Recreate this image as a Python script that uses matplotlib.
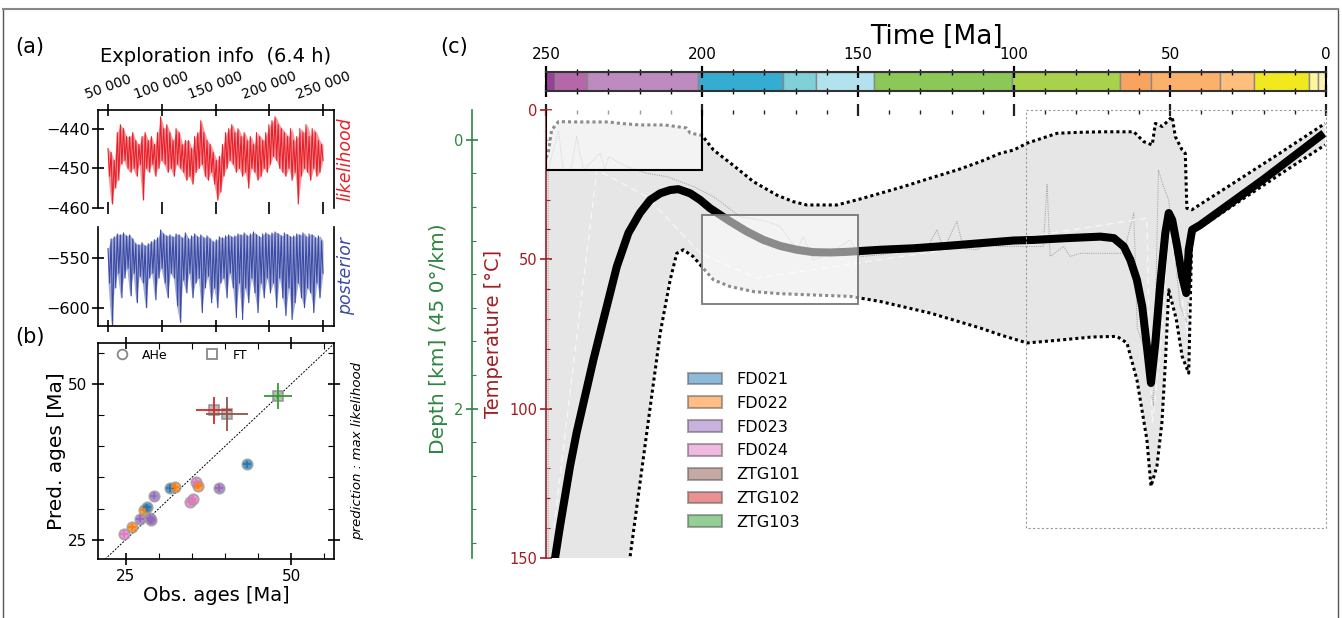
import numpy as np
import matplotlib
matplotlib.use('Agg')
import matplotlib.pyplot as plt
from matplotlib.patches import Rectangle, Patch
from matplotlib.lines import Line2D
from matplotlib.ticker import MultipleLocator, FixedLocator, FuncFormatter

# ---------------- DATA ----------------
# (a) MCMC traces (alternating upper / lower excursions)
iter_start, iter_end = 50000, 250000
lik_hi = [-445, -446, -448, -441, -439, -440, -442, -442, -441, -443, -444, -442, -441, -443, -442, -444,
          -441, -437, -440, -439, -441, -443, -440, -441, -444, -443, -443, -445, -442, -441, -438, -441,
          -443, -444, -446, -448, -447, -444, -441, -440, -439, -441, -440, -442, -441, -443, -442, -444,
          -441, -442, -443, -441, -439, -438, -437, -439, -440, -441, -442, -440, -443, -442, -440, -441,
          -439, -442, -440, -441, -443, -444]
lik_lo = [-452, -459, -455, -453, -449, -448, -450, -451, -450, -452, -449, -458, -450, -451, -449, -452,
          -450, -448, -449, -451, -450, -452, -449, -450, -451, -453, -452, -454, -451, -450, -449, -452,
          -453, -451, -454, -458, -456, -452, -450, -448, -449, -451, -450, -452, -451, -455, -450, -451,
          -453, -452, -450, -451, -449, -447, -448, -450, -451, -452, -450, -453, -451, -459, -452, -450,
          -451, -453, -450, -452, -451, -448]
post_hi = [-540, -530, -528, -525, -526, -524, -527, -526, -530, -535, -536, -534, -537, -535, -533, -531,
           -529, -521, -525, -527, -526, -528, -525, -526, -529, -524, -530, -527, -525, -528, -526, -529,
           -527, -530, -533, -531, -528, -529, -527, -526, -528, -527, -525, -526, -524, -527, -525, -523,
           -526, -528, -525, -524, -526, -524, -523, -525, -527, -524, -526, -528, -527, -525, -526, -524,
           -528, -525, -526, -529, -527, -532]
post_lo = [-575, -618, -580, -565, -590, -570, -560, -588, -565, -595, -568, -575, -600, -570, -565, -592,
           -570, -560, -575, -590, -565, -570, -598, -615, -572, -585, -565, -590, -575, -570, -605, -580,
           -568, -595, -580, -600, -575, -570, -590, -565, -580, -610, -575, -612, -580, -595, -570, -585,
           -605, -575, -590, -570, -585, -575, -600, -570, -590, -608, -580, -612, -595, -575, -590, -600,
           -580, -585, -605, -575, -590, -565]
iter_ticks = [50000, 100000, 150000, 200000, 250000]

# (b) observed vs predicted ages
ahe_obs = [24.7, 25.95, 27.1, 27.7, 28.2, 28.7, 28.8, 29.2, 31.7, 32.5, 34.7, 35.1, 35.6, 35.9, 39.1, 43.3]
ahe_pred = [25.9, 27.0, 28.4, 29.8, 30.2, 28.5, 28.2, 32.1, 33.3, 33.5, 31.0, 31.6, 34.3, 33.7, 33.3, 37.1]
ahe_sample = ['FD024', 'FD022', 'FD023', 'FD022', 'FD021', 'FD023', 'FD023', 'FD023', 'FD021', 'FD022',
              'FD024', 'FD024', 'FD024', 'FD022', 'FD023', 'FD021']
ahe_err = 0.6
ft_obs = [38.3, 40.3, 48.0]
ft_pred = [45.8, 45.2, 48.1]
ft_xerr = [2.75, 3.15, 2.15]
ft_yerr = [2.2, 2.8, 2.1]
ft_sample = ['ZTG102', 'ZTG101', 'ZTG103']

samples = ['FD021', 'FD022', 'FD023', 'FD024', 'ZTG101', 'ZTG102', 'ZTG103']
sample_colors = ['#1f77b4', '#ff7f0e', '#9467bd', '#e377c2', '#8c564b', '#d62728', '#2ca02c']

# (c) thermal history
env_hi_t = [250, 249.3, 248.2, 246, 240, 230, 226, 220, 212, 205, 203.8, 200, 196.3, 190, 183.5, 176, 170.7,
            166.4, 156.8, 150, 142.9, 135, 126.8, 118, 110.8, 104.4, 100.1, 95.8, 86.2, 80, 72, 66, 61.6,
            58.4, 55.7, 54.7, 52.5, 50.9, 49.3, 48.3, 46.1, 45.1, 44.6, 43.0, 30, 15, 0.3]
env_hi_T = [16, 14.5, 6.7, 3.9, 4, 4, 4.5, 5, 5, 6, 7.7, 8.5, 13.4, 18.5, 24, 28.5, 30.7,
            31.8, 31.8, 30, 27.9, 25.5, 22.8, 20, 17.3, 14.5, 13.4, 11.1, 7.8, 7.5, 7.3, 7.3, 7.3,
            10.6, 11.7, 4.5, 5.5, 3.9, 2.2, 8.9, 13.4, 14.5, 32.9, 33.4, 24.7, 14.6, 4.5]
env_lo_t = [250, 225, 223.1, 217.7, 213.4, 210.2, 208.1, 206, 202.8, 200.1, 196.3, 191, 183.5, 175, 165.3,
            152.5, 142.9, 126.8, 110.8, 104.4, 95.8, 85, 75, 67, 63.8, 60.6, 57.4, 56.1, 54.2, 52.6, 51.5,
            50.4, 48, 46.1, 44, 43, 30, 15, 0.3]
env_lo_T = [200, 165, 150, 108, 74.7, 56.9, 48, 46.8, 49.1, 52.4, 56.9, 59.1, 60.8, 61.5, 61.9,
            62.4, 64.1, 68, 73, 75.3, 78, 77, 76, 75.8, 78, 90.3, 110.4, 126, 119.3, 104.8, 85,
            60.2, 70, 82.5, 88.1, 41.2, 32.1, 21.7, 11.7]
best_t = [248, 247.1, 245.5, 243.9, 242.3, 240.2, 238.0, 234.8, 231.6, 227.3, 223.6, 219.9, 216.6, 213.4,
          210.2, 207.6, 203.8, 200.6, 197.4, 194.2, 191, 185.6, 180.3, 175, 169.6, 164.3, 158.9, 153.6,
          142.9, 132.2, 121.5, 110.8, 100.1, 93.7, 83, 72.3, 68, 64.8, 62.7, 60.6, 58.9, 57.4, 56.1, 54.7,
          53.1, 51.5, 50.4, 49.3, 47.7, 46.1, 44.8, 44, 42.9, 40.3, 20, 0.7]
best_T = [155, 150, 139.3, 129.3, 119.3, 108.1, 98.1, 83.6, 70.2, 52.4, 41.2, 34.5, 30.1, 27.9,
          26.8, 26.5, 27.9, 30.1, 32.9, 35.1, 37.3, 40.7, 43.5, 45.5, 46.8, 47.6, 47.7, 47.5,
          46.8, 46.3, 45.5, 44.6, 43.7, 43.5, 42.9, 42.4, 42.9, 45.7, 50.2, 56.9, 65.8, 79.2, 91.4, 78,
          58, 41.2, 34.5, 36.8, 45.7, 55.8, 61.3, 46.8, 40.1, 38.5, 23.2, 7.8]
mean_t = [247.5, 233.7, 217.7, 200.6, 182.4, 153.6, 121.5, 95.8, 57.4, 56.8, 55.7, 53, 50.4, 46.5, 44.5,
          43, 20, 0.7]
mean_T = [140, 20, 29, 47.9, 56.3, 51.8, 46.8, 42.5, 36.2, 70, 104.7, 80, 40, 60, 75, 42, 24, 9]
med_t = [249.3, 249.3, 246, 244.5, 242, 240.2, 238, 232.7, 231, 230, 224.1, 217.7, 211.3, 202.8, 196.3, 187.8,
         179.2, 175, 169.6, 167.5, 164.3, 159, 152.5, 149.3, 142.9, 134.3, 127.9, 124.7, 122.6, 118.3, 116.2,
         111.9, 107.1, 105.5, 90.6, 89.4, 88.4, 84.1, 82, 78.7, 72.3, 64.9, 61.6, 60.5, 57.4, 55.3, 53.7,
         52.1, 50.4, 46.7, 44.5, 43]
med_T = [150, 20, 7, 20, 20, 8.9, 20, 14.5, 20, 15.6, 19, 21.2, 22.3, 25.6, 29, 35.7,
         37.3, 39, 46.8, 42.4, 50.2, 48, 43.5, 49.1, 48.5, 46.8, 46.3, 40.1, 46.8, 37.3, 46.3,
         46.8, 43.5, 45.7, 45.7, 25, 49, 45.7, 49, 48, 48, 48, 34.5, 73, 82.5, 99.2, 20.1,
         25.6, 30.1, 65.8, 71.3, 41]
# constraint boxes: (t_old, t_young, T_min, T_max)
box_main = (250, 200, -5, 20)
box_mid = (200, 150, 35, 65)
box_recent = (96, 0, 0, 140)
surface_T = 10.0
gradient = 45.0

geo_start = [251.9, 247.2, 237.0, 201.3, 174.1, 163.5, 145.0, 100.5, 66.0, 56.0, 33.9, 23.03, 5.333, 2.58]
geo_end = [247.2, 237.0, 201.3, 174.1, 163.5, 145.0, 100.5, 66.0, 56.0, 33.9, 23.03, 5.333, 2.58, 0.0]
geo_colors = ['#9a3d9b', '#b467a9', '#bd8bbf', '#35acd1', '#7fd0d9', '#b2e2ee', '#8bc857', '#a8d24b',
              '#f9a45e', '#fbb16c', '#fdbf7b', '#f2e81e', '#fcf6a0', '#fff2b0']
time_ticks = [250, 200, 150, 100, 50, 0]

# ---------------- FIGURE ----------------
W, H = 1342, 618
fig = plt.figure(figsize=(W / 100, H / 100), dpi=100)
plt.rcParams['font.family'] = ['DejaVu Sans']


def pbox(x0, y0, x1, y1):
    return [x0 / W, 1 - y1 / H, (x1 - x0) / W, (y1 - y0) / H]


RED = '#e8202a'
BLUE = '#3b4ba5'
DRED = '#a11d21'
GREEN = '#2e8540'

# figure frame
fig.add_artist(Line2D([3 / W, 3 / W], [0, 1 - 9 / H], color='#555', lw=1))
fig.add_artist(Line2D([1338 / W, 1338 / W], [0, 1 - 9 / H], color='#555', lw=1))
fig.add_artist(Line2D([3 / W, 1338 / W], [1 - 9 / H, 1 - 9 / H], color='#888', lw=1.5))

# ---- (a) top: likelihood
ax_l = fig.add_axes(pbox(98, 110, 334, 208))
xp = np.linspace(iter_start, iter_end, len(lik_hi))
xs = np.linspace(iter_start, iter_end, 2 * len(lik_hi))
ax_l.fill_between(xp, lik_hi, lik_lo, color=RED, alpha=0.45, lw=0)
ax_l.plot(xs, np.column_stack([lik_hi, lik_lo]).ravel(), color=RED, lw=0.8)
ax_l.set_xlim(40700, 260200)
ax_l.set_ylim(-460, -435.3)
ax_l.spines['bottom'].set_visible(False)
for s in ['top', 'left', 'right']:
    ax_l.spines[s].set_linewidth(1.2)
ax_l.set_xticks(iter_ticks)
ax_l.xaxis.set_major_formatter(FuncFormatter(lambda v, p: f'{int(v):,}'.replace(',', ' ')))
ax_l.tick_params(axis='x', top=True, bottom=True, labeltop=True, labelbottom=False,
                 direction='inout', length=8, width=1.2, labelsize=10, labelrotation=20, pad=2)
for lab in ax_l.get_xticklabels():
    lab.set_ha('center')
ax_l.set_yticks([-440, -450, -460])
ax_l.tick_params(axis='y', direction='inout', length=8, width=1.2, labelsize=11.5, pad=2)
ax_l.text(1.05, 0.5, 'likelihood', transform=ax_l.transAxes, rotation=90, color=RED,
          style='italic', fontsize=12.5, ha='center', va='center')
ax_l.set_title('Exploration info  (6.4 h)', fontsize=14, pad=5)

# ---- (a) bottom: posterior
ax_p = fig.add_axes(pbox(98, 227, 334, 326))
xp2 = np.linspace(iter_start, iter_end, len(post_hi))
xs2 = np.linspace(iter_start, iter_end, 2 * len(post_hi))
ax_p.fill_between(xp2, post_hi, post_lo, color=BLUE, alpha=0.45, lw=0)
ax_p.plot(xs2, np.column_stack([post_hi, post_lo]).ravel(), color=BLUE, lw=0.8)
ax_p.set_xlim(40700, 260200)
ax_p.set_ylim(-618.6, -518)
ax_p.spines['top'].set_visible(False)
for s in ['bottom', 'left', 'right']:
    ax_p.spines[s].set_linewidth(1.2)
ax_p.set_xticks(iter_ticks)
ax_p.tick_params(axis='x', labelbottom=False, direction='inout', length=8, width=1.2)
ax_p.set_yticks([-550, -600])
ax_p.tick_params(axis='y', direction='inout', length=8, width=1.2, labelsize=11.5, pad=2)
ax_p.text(1.05, 0.5, 'posterior', transform=ax_p.transAxes, rotation=90, color=BLUE,
          style='italic', fontsize=12.5, ha='center', va='center')

fig.text(15 / W, 1 - 47 / H, '(a)', fontsize=15, va='center', ha='left')
fig.text(15 / W, 1 - 337 / H, '(b)', fontsize=15, va='center', ha='left')
fig.text(440 / W, 1 - 47 / H, '(c)', fontsize=15, va='center', ha='left')

# ---- (b) obs vs pred
ax_b = fig.add_axes(pbox(98, 343, 334, 559))
ax_b.set_xlim(20.8, 56.5)
ax_b.set_ylim(21.9, 56.6)
ax_b.plot([20, 60], [20, 60], color='black', lw=0.7, ls=(0, (2, 1.5)), zorder=1)
cmap = dict(zip(samples, sample_colors))
for o, p, s in zip(ahe_obs, ahe_pred, ahe_sample):
    ax_b.plot(o, p, 'o', ms=7.5, mfc=cmap[s], mec='#999999', mew=1.3, alpha=0.75, zorder=3)
    ax_b.errorbar(o, p, xerr=ahe_err, yerr=ahe_err, color=cmap[s], lw=1.2, zorder=4)
for o, p, ex, ey, s in zip(ft_obs, ft_pred, ft_xerr, ft_yerr, ft_sample):
    ax_b.plot(o, p, 's', ms=7, mfc='#aaaaaa', mec='#888888', mew=1.2, alpha=0.8, zorder=3)
    ax_b.errorbar(o, p, xerr=ex, yerr=ey, color=cmap[s], lw=1.3, zorder=4)
ax_b.set_xticks([25, 50])
ax_b.set_yticks([25, 50])
ax_b.xaxis.set_minor_locator(MultipleLocator(5))
ax_b.yaxis.set_minor_locator(MultipleLocator(5))
ax_b.tick_params(which='major', direction='inout', length=8, width=1.2, top=True, right=True,
                 labelsize=11)
ax_b.tick_params(which='minor', direction='in', length=4, width=0.8, top=True, right=True)
for s in ax_b.spines.values():
    s.set_linewidth(1.2)
ax_b.set_xlabel('Obs. ages [Ma]', fontsize=14, labelpad=1)
ax_b.set_ylabel('Pred. ages [Ma]', fontsize=14.5, labelpad=2)
hb = [Line2D([], [], marker='o', mfc='none', mec='#888888', mew=1.3, ls='none', ms=7),
      Line2D([], [], marker='s', mfc='none', mec='#888888', mew=1.3, ls='none', ms=7)]
ax_b.legend(hb, ['AHe', 'FT'], loc='upper left', ncol=2, frameon=False, fontsize=9,
            bbox_to_anchor=(0.0, 1.025), columnspacing=2.6, handletextpad=0.6)
ax_b.text(1.1, 0.5, 'prediction : max likelihood', transform=ax_b.transAxes, rotation=90,
          style='italic', fontsize=9.6, ha='center', va='center')

# ---- (c) thermal history
ax = fig.add_axes(pbox(546, 110, 1326, 558))
ax.set_xlim(250, 0)
ax.set_ylim(150, 0)
ax.fill(np.r_[env_hi_t, env_lo_t[::-1]], np.r_[env_hi_T, env_lo_T[::-1]], color='#e6e6e6', lw=0, zorder=1)
ax.plot(env_hi_t, env_hi_T, color='black', lw=2.2, ls=(0, (1, 1)), zorder=2)
ax.plot(env_lo_t, env_lo_T, color='black', lw=2.2, ls=(0, (1, 1)), zorder=2)
ax.plot(med_t, med_T, color='#aaaaaa', lw=0.8, ls=(0, (1, 1)), zorder=2)
ax.plot(mean_t, mean_T, color='#f4f4ff', lw=1.0, ls=(0, (5, 3)), zorder=2)
ax.plot(best_t, best_T, color='black', lw=5.8, solid_capstyle='butt', solid_joinstyle='round', zorder=3)

b = box_main
ax.add_patch(Rectangle((b[1], b[2]), b[0] - b[1], b[3] - b[2], facecolor='white', alpha=0.55,
                       edgecolor='none', zorder=4))
ax.add_patch(Rectangle((b[1], b[2]), b[0] - b[1], b[3] - b[2], facecolor='none',
                       edgecolor='black', lw=1.5, zorder=4))
b = box_mid
ax.add_patch(Rectangle((b[1], b[2]), b[0] - b[1], b[3] - b[2], facecolor='white', alpha=0.55,
                       edgecolor='none', zorder=4))
ax.add_patch(Rectangle((b[1], b[2]), b[0] - b[1], b[3] - b[2], facecolor='none',
                       edgecolor='#777777', lw=1.3, zorder=4))
b = box_recent
ax.add_patch(Rectangle((b[1], b[2]), b[0] - b[1], b[3] - b[2], facecolor='none',
                       edgecolor='#999999', lw=0.8, ls=(0, (2, 2)), zorder=4, clip_on=False))

for s in ['top', 'right', 'bottom']:
    ax.spines[s].set_visible(False)
ax.spines['left'].set_color(DRED)
ax.spines['left'].set_linewidth(1.2)
ax.set_xticks(time_ticks)
ax.xaxis.set_minor_locator(MultipleLocator(10))
ax.tick_params(axis='x', which='major', top=True, bottom=False, labelbottom=False, labeltop=False,
               direction='inout', length=9, width=1.6, color='#222222')
ax.tick_params(axis='x', which='minor', top=True, bottom=False, direction='in', length=3,
               width=1.0, color='#222222')
ax.set_yticks([0, 50, 100, 150])
ax.yaxis.set_minor_locator(MultipleLocator(10))
ax.tick_params(axis='y', which='major', direction='inout', length=8, width=1.2, colors=DRED,
               labelsize=10.5, pad=2)
ax.tick_params(axis='y', which='minor', direction='in', length=3, width=0.8, colors=DRED)
ax.set_ylabel('Temperature [°C]', color=DRED, fontsize=14)
ax.yaxis.set_label_coords(-0.055, 0.5)

handles = [Patch(facecolor=c, alpha=0.5, edgecolor='#555555', lw=1.5) for c in sample_colors]
ax.legend(handles, samples, loc='upper left', bbox_to_anchor=(0.164, 0.447), frameon=False,
          fontsize=11.5, handlelength=2.1, handleheight=0.75, labelspacing=0.55, handletextpad=0.9)

# depth axis
ax_d = ax.twinx()
ax_d.set_ylim((150 - surface_T) / gradient, (0 - surface_T) / gradient)
for s in ['top', 'right', 'bottom']:
    ax_d.spines[s].set_visible(False)
ax_d.spines['left'].set_position(('axes', (472 - 546) / 780))
ax_d.spines['left'].set_color(GREEN)
ax_d.spines['left'].set_linewidth(1.2)
ax_d.yaxis.set_ticks_position('left')
ax_d.yaxis.set_label_position('left')
ax_d.yaxis.set_major_locator(FixedLocator([0, 2]))
ax_d.yaxis.set_minor_locator(MultipleLocator(0.25))
ax_d.tick_params(axis='y', which='major', direction='inout', length=8, width=1.2, colors=GREEN,
                 labelsize=10.5, pad=2)
ax_d.tick_params(axis='y', which='minor', direction='in', length=3, width=0.8, colors=GREEN)
ax_d.set_ylabel('Depth [km] (45 0°/km)', color=GREEN, fontsize=14.5)
ax_d.yaxis.set_label_coords(-0.125, 0.49)

# time scale bar
ax_t = fig.add_axes(pbox(546, 72, 1326, 91))
ax_t.barh(0, np.array(geo_start) - np.array(geo_end), left=geo_end, height=1, color=geo_colors,
          edgecolor='#888888', lw=1)
ax_t.set_xlim(250, 0)
ax_t.set_ylim(-0.5, 0.5)
ax_t.set_yticks([])
ax_t.set_xticks(time_ticks)
ax_t.xaxis.set_minor_locator(MultipleLocator(10))
ax_t.tick_params(axis='x', which='major', top=True, bottom=True, labeltop=True, labelbottom=False,
                 direction='inout', length=9, width=1.6, labelsize=11, pad=3)
ax_t.tick_params(axis='x', which='minor', top=True, bottom=True, direction='inout', length=5, width=1)
for s in ['top', 'bottom']:
    ax_t.spines[s].set_color('#333333')
    ax_t.spines[s].set_linewidth(1.5)
for s in ['left', 'right']:
    ax_t.spines[s].set_linewidth(1.5)
fig.text(936 / W, 1 - 37 / H, 'Time [Ma]', fontsize=19, ha='center', va='center')

fig.savefig('out.png', dpi=100)
